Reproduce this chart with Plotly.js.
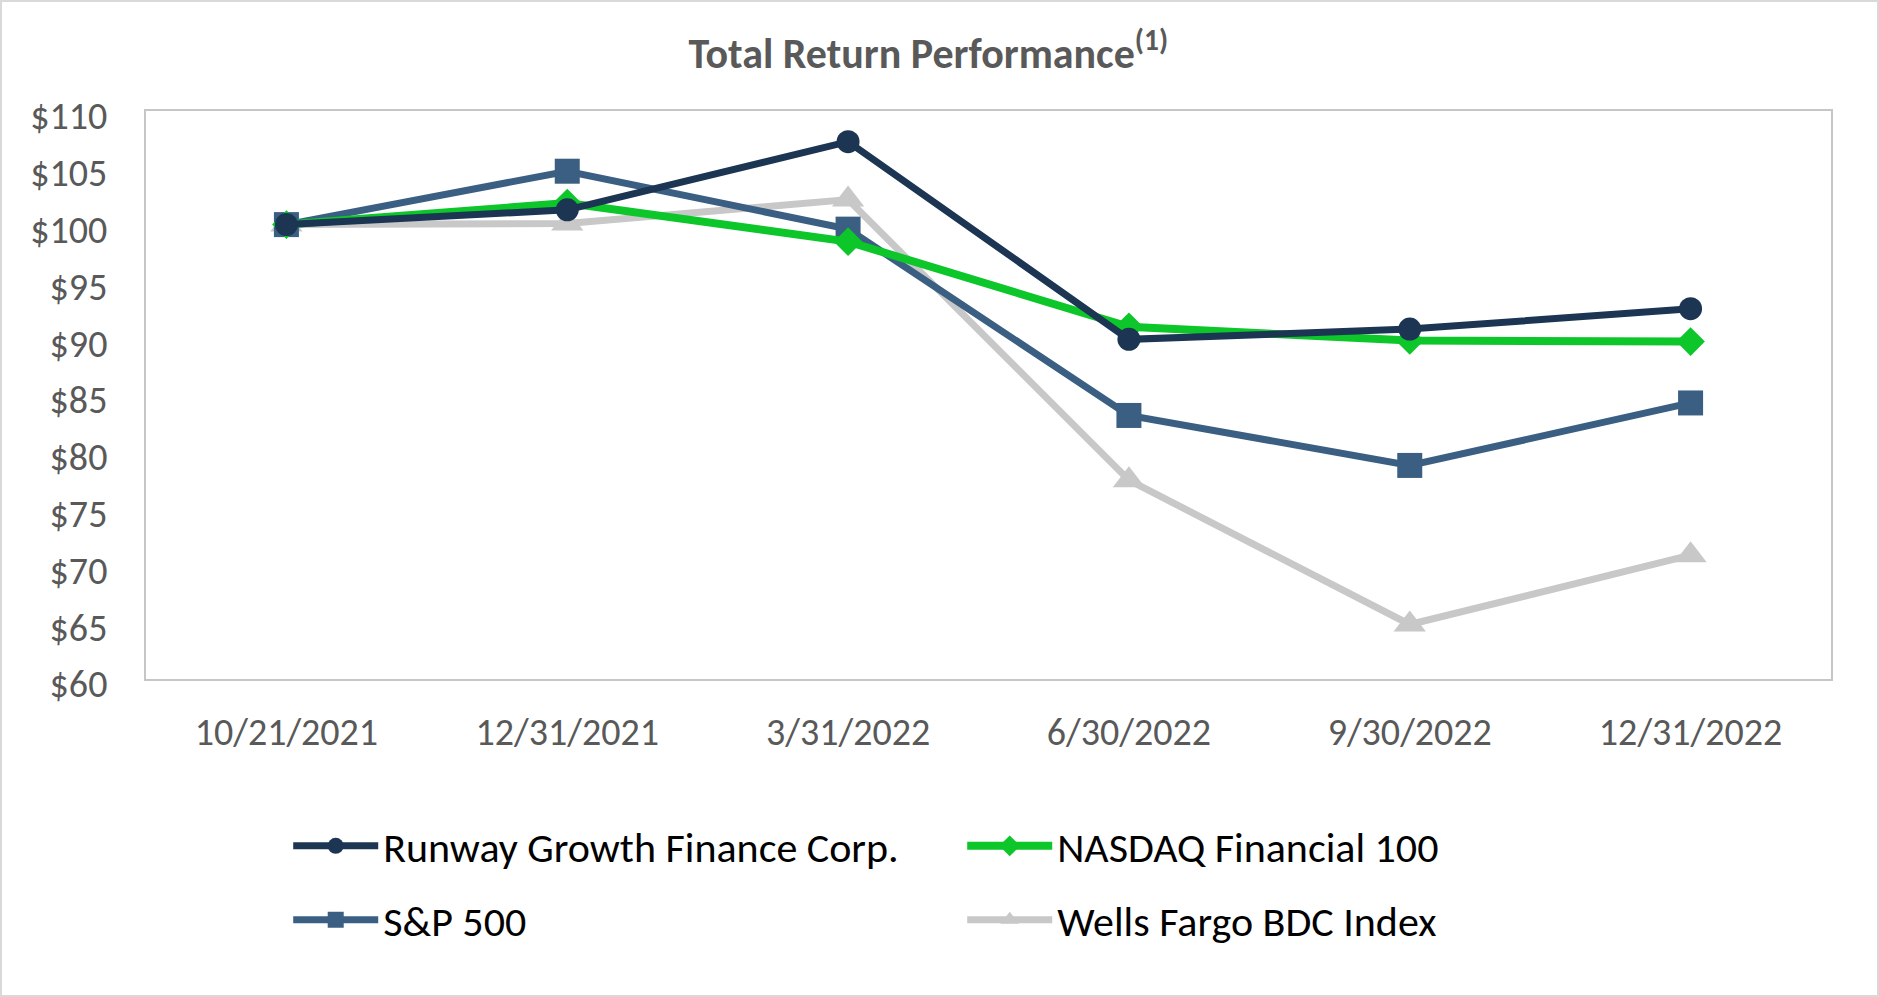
<!DOCTYPE html>
<html>
<head>
<meta charset="utf-8">
<script src="https://cdn.plot.ly/plotly-3.0.1.min.js"></script>
<style>
  html, body { margin: 0; padding: 0; background: #fff; }
  #wrap { position: relative; width: 1879px; height: 997px; }
  #chart { width: 1879px; height: 997px; }
  #frame { position: absolute; left: 0; top: 0; width: 1879px; height: 997px; box-sizing: border-box; border: 2px solid #d9d9d9; pointer-events: none; }
</style>
</head>
<body>
<div id="wrap"><div id="chart"></div><div id="frame"></div></div>
<script>
// Data
const dates = ['10/21/2021', '12/31/2021', '3/31/2022', '6/30/2022', '9/30/2022', '12/31/2022'];
const runway = [100.0, 101.3, 107.3, 89.9, 90.8, 92.6];
const nasdaq = [100.0, 101.9, 98.5, 91.0, 89.8, 89.7];
const sp500  = [100.0, 104.7, 99.6, 83.2, 78.8, 84.3];
const wells  = [100.0, 100.1, 102.2, 77.5, 64.8, 70.9];

const seriesNames = ['Runway Growth Finance Corp.', 'NASDAQ Financial 100', 'S&P 500', 'Wells Fargo BDC Index'];
const yTickVals = [60, 65, 70, 75, 80, 85, 90, 95, 100, 105, 110];
const yTickText = ['$60', '$65', '$70', '$75', '$80', '$85', '$90', '$95', '$100', '$105', '$110'];

const FONT = 'Carlito, Calibri, Lato, sans-serif';

const traces = [
  { x: dates, y: runway, name: seriesNames[0], type: 'scatter', mode: 'lines+markers',
    line: { color: '#1c3553', width: 7 }, marker: { symbol: 'circle', size: 23, color: '#1c3553' }, legend: 'legend' },
  { x: dates, y: nasdaq, name: seriesNames[1], type: 'scatter', mode: 'lines+markers',
    line: { color: '#0cc62a', width: 8 }, marker: { symbol: 'diamond', size: 22, color: '#0cc62a' }, legend: 'legend2' },
  { x: dates, y: sp500, name: seriesNames[2], type: 'scatter', mode: 'lines+markers',
    line: { color: '#3a5f82', width: 7 }, marker: { symbol: 'square', size: 25, color: '#3a5f82' }, legend: 'legend3' },
  { x: dates, y: wells, name: seriesNames[3], type: 'scatter', mode: 'lines+markers',
    line: { color: '#c8c8c8', width: 7 }, marker: { symbol: 'triangle-up', size: 28, color: '#c8c8c8' }, legend: 'legend4' }
];
const ordered = [traces[3], traces[2], traces[1], traces[0]];

const legendBase = {
  orientation: 'v', xanchor: 'left', yanchor: 'middle',
  font: { family: FONT, size: 42, color: '#000000' },
  bgcolor: 'rgba(0,0,0,0)', itemwidth: 85, traceorder: 'normal'
};

const layout = {
  width: 1879, height: 997,
  paper_bgcolor: '#ffffff', plot_bgcolor: '#ffffff',
  margin: { l: 146, r: 48, t: 111, b: 318, autoexpand: false },
  title: {
    text: '<b>Total Return Performance<sup>(1)</sup></b>',
    font: { family: FONT, size: 42, color: '#595959' },
    xref: 'container', yref: 'container', x: 0.494, xanchor: 'center', y: 0.947, yanchor: 'middle'
  },
  xaxis: {
    type: 'category', range: [-0.5, 5.5], showgrid: false, zeroline: false, automargin: false,
    showline: true, mirror: true, linecolor: '#c6c6c6', linewidth: 2,
    ticks: '', ticklabelstandoff: 18,
    tickfont: { family: FONT, size: 38, color: '#595959' }
  },
  yaxis: {
    range: [60, 110], tickmode: 'array', tickvals: yTickVals, ticktext: yTickText, showgrid: false, zeroline: false, automargin: false,
    showline: true, mirror: true, linecolor: '#c6c6c6', linewidth: 2,
    ticks: '', ticklabelstandoff: 29, ticklabelshift: 5,
    tickfont: { family: FONT, size: 38, color: '#595959' }
  },
  showlegend: true,
  legend:  Object.assign({}, legendBase, { x: 0.0844, y: -0.294 }),
  legend2: Object.assign({}, legendBase, { x: 0.4844, y: -0.294 }),
  legend3: Object.assign({}, legendBase, { x: 0.0844, y: -0.424 }),
  legend4: Object.assign({}, legendBase, { x: 0.4844, y: -0.424 })
};

Plotly.newPlot('chart', ordered, layout, { displayModeBar: false, staticPlot: true });
</script>
</body>
</html>
